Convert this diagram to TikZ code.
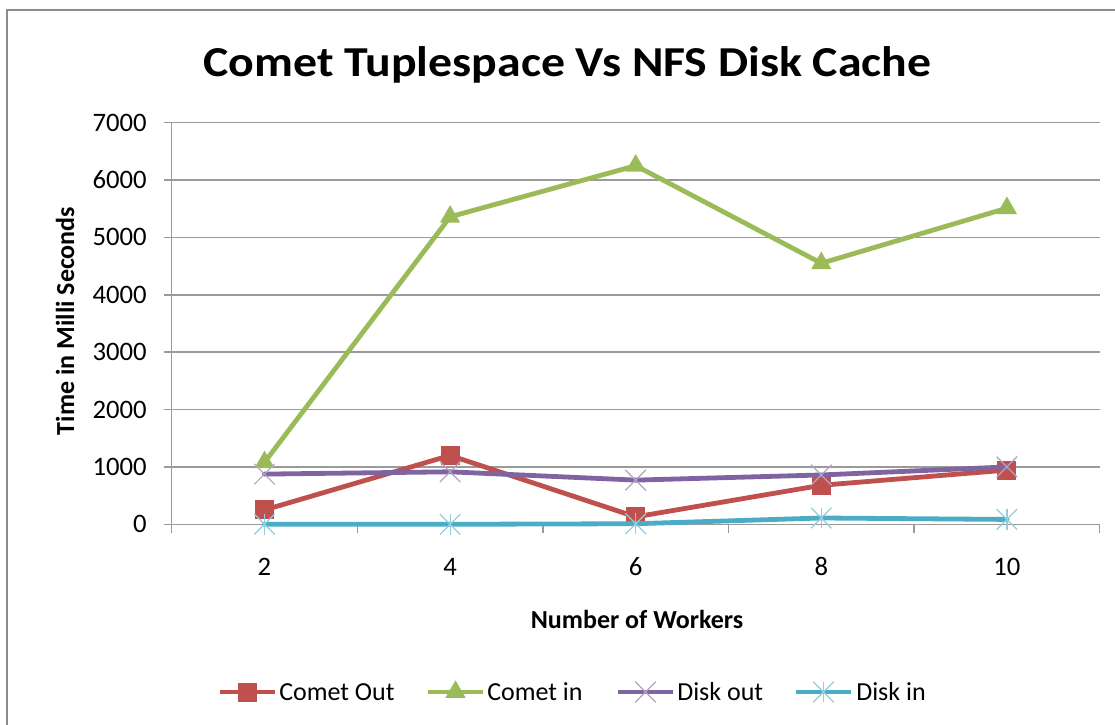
\documentclass[tikz,border=0pt]{standalone}
\usepackage{fontspec}
\setmainfont{Carlito}
\newfontfamily\titlefont[FakeStretch=1.12]{Carlito}
\usetikzlibrary{shapes.geometric,shapes.misc,calc}
\definecolor{cout}{HTML}{C0504D}
\definecolor{cin}{HTML}{9BBB59}
\definecolor{dout}{HTML}{8064A2}
\definecolor{doutm}{HTML}{B3A2C7}
\definecolor{din}{HTML}{4BACC6}
\definecolor{dinm}{HTML}{93CDDD}
\definecolor{gridgray}{HTML}{9A9A9A}
\definecolor{bordergray}{HTML}{8C8C8C}
\tikzset{
  gridline/.style={draw=gridgray, line width=1.1pt},
  serline/.style={line width=3.6pt, line join=round, line cap=round},
  sqmark/.style={rectangle, fill=cout, minimum size=14.25pt, inner sep=0pt},
  trimark/.style={regular polygon, regular polygon sides=3, fill=cin, minimum size=17.5pt, inner sep=0pt},
  xmark/.style={cross out, draw=doutm, line width=0.9pt, minimum size=14.5pt, inner sep=0pt},
  starmark/.style={cross out, draw=dinm, line width=0.9pt, minimum size=14.5pt, inner sep=0pt},
  ticklab/.style={font=\fontsize{20pt}{24pt}\selectfont, inner sep=0pt},
  axlab/.style={font=\fontsize{19.5pt}{23pt}\selectfont\bfseries, inner sep=0pt},
  leglab/.style={font=\fontsize{19.5pt}{24pt}\selectfont, inner sep=0pt, anchor=base west},
}
\begin{document}
\begin{tikzpicture}[x=0.75pt,y=-0.75pt]
\useasboundingbox (0,0) rectangle (1115,725);
% chart border
\draw[draw=bordergray, line width=1.9pt] (7,726) -- (7,10) -- (1116,10);
% title
\node[font=\fontsize{32pt}{38pt}\titlefont\bfseries, inner sep=0pt, anchor=base] (title) at (567.5,76) {Comet Tuplespace Vs NFS Disk Cache};
% axis titles
\node[axlab, rotate=90, anchor=base] (ylab) at (74,321) {Time in Milli Seconds};
\node[axlab, anchor=base] (xlab) at (637,628) {Number of Workers};
\begin{scope}[shift={(78.9,524.3)}, x=69.6pt, y=0.043028pt]
  % grid
  \foreach \v in {0,1000,...,7000} {
    \coordinate (gl\v) at (0.914,\v);
    \coordinate (gr\v) at (11,\v);
    \draw[gridline] (gl\v) -- (gr\v);
    \node[ticklab, anchor=east] (yl\v) at (0.734,\v) {\v};
  }
  \coordinate (ytop) at (1,7000);
  \coordinate (ybot) at (1,-157);
  \draw[gridline] (ybot) -- (ytop);
  \foreach \c in {3,5,7,9,11} {
    \coordinate (ta\c) at (\c,0);
    \coordinate (tb\c) at (\c,-157);
    \draw[gridline] (ta\c) -- (tb\c);
  }
  \foreach \c in {2,4,6,8,10} {
    \node[ticklab, anchor=base] (xl\c) at (\c,-884) {\c};
  }
  % data
  \foreach \c/\v [count=\i] in {2/250,4/1200,6/130,8/680,10/945} \coordinate (co\i) at (\c,\v);
  \foreach \c/\v [count=\i] in {2/1080,4/5360,6/6250,8/4550,10/5510} \coordinate (ci\i) at (\c,\v);
  \foreach \c/\v [count=\i] in {2/875,4/915,6/770,8/860,10/1000} \coordinate (do\i) at (\c,\v);
  \foreach \c/\v [count=\i] in {2/0,4/0,6/10,8/110,10/85} \coordinate (di\i) at (\c,\v);
  % Comet Out
  \draw[serline, cout] (co1) -- (co2) -- (co3) -- (co4) -- (co5);
  \foreach \i in {1,...,5} \node[sqmark] (mco\i) at (co\i) {};
  % Comet in
  \draw[serline, cin] (ci1) -- (ci2) -- (ci3) -- (ci4) -- (ci5);
  \foreach \i in {1,...,5} \node[trimark] (mci\i) at (ci\i) {};
  % Disk out
  \draw[serline, dout] (do1) -- (do2) -- (do3) -- (do4) -- (do5);
  \foreach \i in {1,...,5} \node[xmark] (mdo\i) at (do\i) {};
  % Disk in
  \draw[serline, din] (di1) -- (di2) -- (di3) -- (di4) -- (di5);
  \foreach \i in {1,...,5} {
    \node[starmark] (mdi\i) at (di\i) {};
    \draw[draw=dinm, line width=0.9pt] (mdi\i.north) -- (mdi\i.south);
  }
\end{scope}
% legend
\coordinate (la1) at (220,692); \coordinate (lb1) at (275,692);
\coordinate (la2) at (428,692); \coordinate (lb2) at (483,692);
\coordinate (la3) at (618,692); \coordinate (lb3) at (673,692);
\coordinate (la4) at (796,692); \coordinate (lb4) at (851,692);
\draw[serline, cout, line cap=butt] (la1) -- (lb1);
\node[sqmark] (lm1) at ($(la1)!0.5!(lb1)$) {};
\draw[serline, cin, line cap=butt] (la2) -- (lb2);
\node[trimark] (lm2) at ($(la2)!0.5!(lb2)$) {};
\draw[serline, dout, line cap=butt] (la3) -- (lb3);
\node[xmark] (lm3) at ($(la3)!0.5!(lb3)$) {};
\draw[serline, din, line cap=butt] (la4) -- (lb4);
\node[starmark] (lm4) at ($(la4)!0.5!(lb4)$) {};
\draw[draw=dinm, line width=0.9pt] (lm4.north) -- (lm4.south);
\node[leglab] (lt1) at (279,700) {Comet Out};
\node[leglab] (lt2) at (487,700) {Comet in};
\node[leglab] (lt3) at (677,700) {Disk out};
\node[leglab] (lt4) at (856,700) {Disk in};
\end{tikzpicture}
\end{document}
